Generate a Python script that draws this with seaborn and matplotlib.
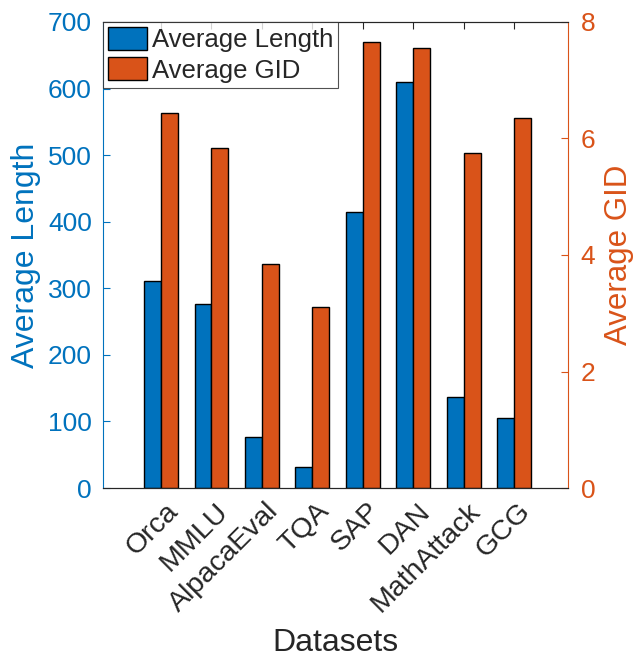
import numpy as np
import pandas as pd
import matplotlib
matplotlib.use("Agg")
import matplotlib.pyplot as plt
import matplotlib.transforms as mtransforms
from matplotlib.patches import Patch
import seaborn as sns

# data
datasets = ['Orca', 'MMLU', 'AlpacaEval', 'TQA', 'SAP', 'DAN', 'MathAttack', 'GCG']
avg_length = [311, 277, 76, 32, 415, 610, 136, 105]
avg_gid = [6.44, 5.84, 3.85, 3.10, 7.65, 7.56, 5.75, 6.35]

blue = '#0072BD'
orange = '#D95319'
dark = '#262626'

n = len(datasets)
df = pd.DataFrame({
    'Dataset': datasets * 2,
    'Metric': ['Average Length'] * n + ['Average GID'] * n,
    'Length': avg_length + [np.nan] * n,
    'GID': [np.nan] * n + avg_gid,
})
metrics = ['Average Length', 'Average GID']

sns.set_style('white')
plt.rcParams['font.family'] = ['Liberation Sans', 'DejaVu Sans']

fig = plt.figure(figsize=(6.37, 6.64), dpi=100)
ax1 = fig.add_axes([0.1617, 0.265, 0.73, 0.702])
ax2 = ax1.twinx()

sns.barplot(data=df, x='Dataset', y='Length', hue='Metric', hue_order=metrics,
            palette=[blue, orange], saturation=1, width=0.67, edgecolor='black',
            linewidth=1, errorbar=None, legend=False, ax=ax1)
sns.barplot(data=df, x='Dataset', y='GID', hue='Metric', hue_order=metrics,
            palette=[blue, orange], saturation=1, width=0.67, edgecolor='black',
            linewidth=1, errorbar=None, legend=False, ax=ax2)

ax1.set_xlim(-1.15, n - 1 + 1.07)
ax1.set_ylim(0, 700)
ax2.set_ylim(0, 8)
ax1.set_yticks(range(0, 701, 100))
ax2.set_yticks(range(0, 9, 2))

# spines
for ax in (ax1, ax2):
    for s in ('top', 'bottom'):
        ax.spines[s].set_color(dark)
        ax.spines[s].set_linewidth(0.8)
ax1.spines['right'].set_visible(False)
ax2.spines['left'].set_visible(False)
ax1.spines['left'].set_color(blue)
ax2.spines['right'].set_color(orange)

ax1.tick_params(axis='x', direction='in', top=True, bottom=True, length=5,
                width=0.8, color=dark, labelsize=20.5, labelcolor=dark, pad=8)
ax1.tick_params(axis='y', direction='in', left=True, length=5, width=0.8,
                color=blue, labelsize=19, labelcolor=blue, pad=8)
ax2.tick_params(axis='y', direction='in', right=True, length=5, width=0.8,
                color=orange, labelsize=19, labelcolor=orange, pad=9)
ax2.tick_params(axis='x', bottom=False, top=False, labelbottom=False)

ax1.set_xticks(range(n))
ax1.set_xticklabels(datasets, rotation=45, ha='right', va='center', rotation_mode='anchor')
# nudge rotated labels right/down like the reference
shift = mtransforms.ScaledTranslation(0.13, -0.08, fig.dpi_scale_trans)
for lab in ax1.get_xticklabels():
    lab.set_transform(lab.get_transform() + shift)

ax1.set_ylabel('Average Length', fontsize=23, color=blue, labelpad=5)
ax2.set_ylabel('Average GID', fontsize=22.5, color=orange, labelpad=6)
ax1.set_xlabel('Datasets', fontsize=23, color=dark, labelpad=8)
ax2.set_xlabel('')

handles = [Patch(facecolor=blue, edgecolor='black', label='Average Length'),
           Patch(facecolor=orange, edgecolor='black', label='Average GID')]
leg = ax2.legend(handles=handles, loc='upper left', fontsize=18.5, frameon=True,
                 fancybox=False, borderaxespad=0, handlelength=1.5, handleheight=1.0,
                 handletextpad=0.2, borderpad=0.2, labelspacing=0.2)
leg.get_frame().set_edgecolor(dark)
leg.get_frame().set_linewidth(0.8)

fig.savefig('out.png', dpi=100, facecolor='white')
